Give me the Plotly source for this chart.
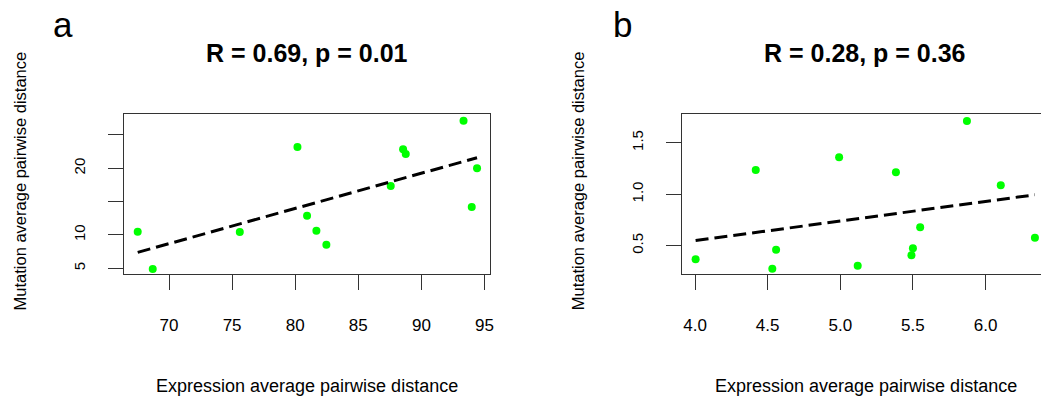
import numpy as np
import plotly.graph_objects as go

W, H = 1045, 399

# ---------------- data ----------------
expr_a = [67.52, 68.71, 75.61, 80.18, 80.94, 81.68, 82.47, 87.57, 88.55, 88.76, 93.34, 93.99, 94.41]
mut_a = [10.49, 4.90, 10.45, 23.2, 12.9, 10.64, 8.54, 17.35, 22.85, 22.15, 27.14, 14.2, 20.0]

expr_b = [4.004, 4.418, 4.532, 4.558, 4.992, 5.12, 5.383, 5.49, 5.5, 5.55, 5.872, 6.105, 6.34]
mut_b = [0.368, 1.235, 0.277, 0.461, 1.358, 0.306, 1.213, 0.406, 0.475, 0.679, 1.71, 1.088, 0.578]

xticks_a = [70, 75, 80, 85, 90, 95]
xticklabels_a = ["70", "75", "80", "85", "90", "95"]
yticks_a = [5, 10, 15, 20, 25]
yticklabels_a = ["5", "10", "", "20", ""]

xticks_b = [4.0, 4.5, 5.0, 5.5, 6.0]
xticklabels_b = ["4.0", "4.5", "5.0", "5.5", "6.0"]
yticks_b = [0.5, 1.0, 1.5]
yticklabels_b = ["0.5", "1.0", "1.5"]

title_a = "R = 0.69, p = 0.01"
title_b = "R = 0.28, p = 0.36"
panel_labels = ["a", "b"]
xlab = "Expression average pairwise distance"
ylab = "Mutation average pairwise distance"

FONT = "Liberation Sans, Arial, Helvetica, sans-serif"
GREEN = "#00FF00"
BOX = "#333333"


def px(x):
    return x / W


def py(y):
    return 1 - y / H


fig = go.Figure()


def add_panel(xs, ys, xa, ya):
    fig.add_trace(go.Scatter(x=xs, y=ys, mode="markers", xaxis=xa, yaxis=ya,
                             marker=dict(color=GREEN, size=8, line=dict(width=0)),
                             showlegend=False, cliponaxis=False))
    k, b = np.polyfit(np.array(xs), np.array(ys), 1)
    lx = np.array([min(xs), max(xs)])
    fig.add_trace(go.Scatter(x=lx, y=k * lx + b, mode="lines", xaxis=xa, yaxis=ya,
                             line=dict(color="black", width=3, dash="13px,6px"),
                             showlegend=False))


add_panel(expr_a, mut_a, "x", "y")
add_panel(expr_b, mut_b, "x2", "y2")

common_x = dict(showgrid=False, zeroline=False, showline=True, linecolor=BOX, linewidth=1.2,
                ticks="outside", ticklen=15, tickwidth=1.2, tickcolor=BOX,
                tickfont=dict(family=FONT, size=17, color="black"), ticklabelstandoff=20,
                tickmode="array", fixedrange=True)
common_y = dict(showgrid=False, zeroline=False, showline=True, linecolor=BOX, linewidth=1.2,
                ticks="outside", ticklen=15, tickwidth=1.2, tickcolor=BOX,
                tickfont=dict(family=FONT, size=15, color="black"), ticklabelstandoff=17,
                tickangle=-90, tickmode="array", fixedrange=True)

ytop, ybot = 114.3, 274.3
# panel b is cut off by the right edge of the image: its axis runs to the border
xb_left = 684.3
xb_per_unit = 145.8
xb_range = [3.908, 3.908 + (W - xb_left) / xb_per_unit]

fig.update_layout(
    width=W, height=H, margin=dict(l=0, r=0, t=0, b=0),
    paper_bgcolor="white", plot_bgcolor="white",
    xaxis=dict(common_x, domain=[px(124.3), px(492.3)], range=[66.42, 95.47],
               tickvals=xticks_a, ticktext=xticklabels_a, mirror=True, anchor="y"),
    yaxis=dict(common_y, domain=[py(ybot), py(ytop)], range=[4.1, 28.1],
               tickvals=yticks_a, ticktext=yticklabels_a, mirror=True, anchor="x"),
    xaxis2=dict(common_x, domain=[px(xb_left), 1.0], range=xb_range,
                tickvals=xticks_b, ticktext=xticklabels_b, mirror=True, anchor="y2"),
    yaxis2=dict(common_y, domain=[py(ybot), py(ytop)], range=[0.222, 1.776],
                tickvals=yticks_b, ticktext=yticklabels_b, mirror=False, anchor="x2"),
)

ann = []
for cx, t in [(308.3, title_a), (868.0, title_b)]:
    ann.append(dict(x=px(cx), y=py(53), xref="paper", yref="paper", text="<b>%s</b>" % t,
                    showarrow=False, xanchor="center", yanchor="middle",
                    font=dict(family=FONT, size=25, color="black")))
for lx, t in [(51.0, panel_labels[0]), (613.0, panel_labels[1])]:
    ann.append(dict(x=px(lx), y=py(25), xref="paper", yref="paper", text=t,
                    showarrow=False, xanchor="left", yanchor="middle",
                    font=dict(family=FONT, size=35, color="black")))
for cx in [308.3, 869.0]:
    ann.append(dict(x=px(cx), y=py(386), xref="paper", yref="paper", text=xlab,
                    showarrow=False, xanchor="center", yanchor="middle",
                    font=dict(family=FONT, size=18, color="black")))
for cx in [20.5, 580.5]:
    ann.append(dict(x=px(cx), y=py(181), xref="paper", yref="paper", text=ylab,
                    showarrow=False, xanchor="center", yanchor="middle", textangle=-90,
                    font=dict(family=FONT, size=16.5, color="black")))
fig.update_layout(annotations=ann)

fig.write_html("out.html", config={"displayModeBar": False},
               post_script="document.body.style.margin='0';document.body.style.overflow='hidden';")
